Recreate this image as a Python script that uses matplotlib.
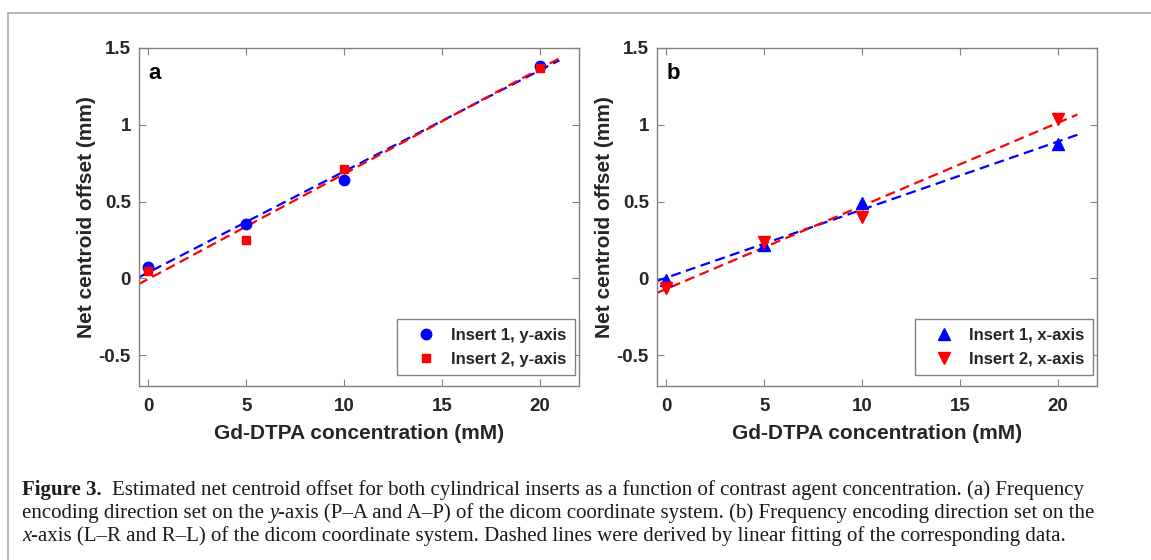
import numpy as np
import matplotlib
matplotlib.use('Agg')
import matplotlib.pyplot as plt
from matplotlib.lines import Line2D

# data
conc = [0, 5, 10, 20]

a_insert1 = [0.076, 0.355, 0.642, 1.385]
a_insert2 = [0.046, 0.250, 0.714, 1.370]

b_insert1 = [-0.010, 0.218, 0.490, 0.872]
b_insert2 = [-0.060, 0.240, 0.400, 1.040]

labels_a = ['Insert 1, y-axis', 'Insert 2, y-axis']
labels_b = ['Insert 1, x-axis', 'Insert 2, x-axis']

SANS = 'Liberation Sans'
SERIF = 'Liberation Serif'
SPINE = '#808080'
TXT = '#262626'

fig = plt.figure(figsize=(11.51, 5.60), dpi=100)


def px_to_fig(x, y, w, h):
    W, H = 1151, 560
    return [x / W, 1 - (y + h) / H, w / W, h / H]


def panel(ax, y1, y2, m1, m2, s1, s2, labels, letter):
    xfit = np.array([-0.5, 21])
    for y, col in [(y1, 'b'), (y2, 'r')]:
        k, c = np.polyfit(conc, y, 1)
        ax.plot(xfit, k * xfit + c, '--', color=col, lw=1.6, dashes=(4.5, 2.5))
    h1, = ax.plot(conc, y1, m1, color='b', ms=s1, ls='none')
    h2, = ax.plot(conc, y2, m2, color='r', ms=s2, ls='none')

    ax.set_xlim(-0.5, 22)
    ax.set_ylim(-0.7, 1.5)
    ax.set_xticks([0, 5, 10, 15, 20])
    ax.set_yticks([-0.5, 0, 0.5, 1, 1.5])
    ax.set_yticklabels(['-0.5', '0', '0.5', '1', '1.5'])
    ax.tick_params(direction='in', top=True, right=True, length=5, width=0.8,
                   color=SPINE, labelsize=13.5, labelcolor=TXT, pad=5.5)
    ax.tick_params(axis='x', pad=8.5)
    for lab in ax.get_xticklabels() + ax.get_yticklabels():
        lab.set_fontweight('bold')
        lab.set_family(SANS)
    for sp in ax.spines.values():
        sp.set_color(SPINE)
        sp.set_linewidth(1.0)

    ax.set_xlabel('Gd-DTPA concentration (mM)', fontsize=15, fontweight='bold',
                  family=SANS, color=TXT, va='center')
    ax.set_ylabel('Net centroid offset (mm)', fontsize=15, fontweight='bold',
                  family=SANS, color=TXT, va='center')
    ax.xaxis.set_label_coords(0.5, -0.14)
    ax.yaxis.set_label_coords(-0.117, 0.5)
    ax.text(0.0227, 0.925, letter, transform=ax.transAxes, fontsize=16,
            fontweight='bold', family=SANS, va='center', ha='left', color='k')

    leg = ax.legend([h1, h2], labels, loc='lower right', bbox_to_anchor=(0.99, 0.0325),
                    prop={'family': SANS, 'weight': 'bold', 'size': 12},
                    frameon=True, fancybox=False, edgecolor=SPINE, framealpha=1,
                    handletextpad=0.26, borderpad=0.5, labelspacing=0.55,
                    handlelength=2.48, borderaxespad=0)
    leg.get_frame().set_linewidth(1.0)
    for t in leg.get_texts():
        t.set_color(TXT)


ax1 = fig.add_axes(px_to_fig(138.5, 48, 440.5, 338))
panel(ax1, a_insert1, a_insert2, 'o', 's', 7.5, 6, labels_a, 'a')

ax2 = fig.add_axes(px_to_fig(656.5, 48, 440.5, 338))
panel(ax2, b_insert1, b_insert2, '^', 'v', 8.5, 8.5, labels_b, 'b')

# outer frame lines (top and left)
fig.add_artist(Line2D([8 / 1151, 1], [1 - 13.3 / 560, 1 - 13.3 / 560],
                      color='#b0b0b0', lw=1.3, transform=fig.transFigure))
fig.add_artist(Line2D([8 / 1151, 8 / 1151], [0, 1 - 13.3 / 560],
                      color='#b0b0b0', lw=1.3, transform=fig.transFigure))

# caption, written as runs of text so bold/italic parts can be mixed
renderer = fig.canvas.get_renderer()
CAP = 15.0


def text_w(s, **kw):
    t = fig.text(0, 0, s, fontsize=CAP, family=SERIF, **kw)
    w = t.get_window_extent(renderer).width
    t.remove()
    return w


space_w = text_w('a a') - text_w('aa')


def put_runs(x_px, y_px, runs):
    x = x_px
    for s, kw, gap in runs:
        x += gap * space_w
        t = fig.text(x / 1151, 1 - y_px / 560, s, fontsize=CAP, family=SERIF,
                     va='baseline', ha='left', color='#1a1a1a', **kw)
        x += t.get_window_extent(renderer).width


put_runs(22, 495, [
    ('Figure 3.', {'fontweight': 'bold'}, 0),
    ('Estimated net centroid offset for both cylindrical inserts as a function of '
     'contrast agent concentration. (a) Frequency', {}, 2),
])
put_runs(22, 518, [
    ('encoding direction set on the', {}, 0),
    ('y', {'style': 'italic'}, 1),
    ('-axis (P\u2013A and A\u2013P) of the dicom coordinate system. (b) Frequency '
     'encoding direction set on the', {}, 0),
])
put_runs(22, 541, [
    ('x', {'style': 'italic'}, 0),
    ('-axis (L\u2013R and R\u2013L) of the dicom coordinate system. Dashed lines were '
     'derived by linear fitting of the corresponding data.', {}, 0),
])

fig.savefig('out.png', dpi=100)
